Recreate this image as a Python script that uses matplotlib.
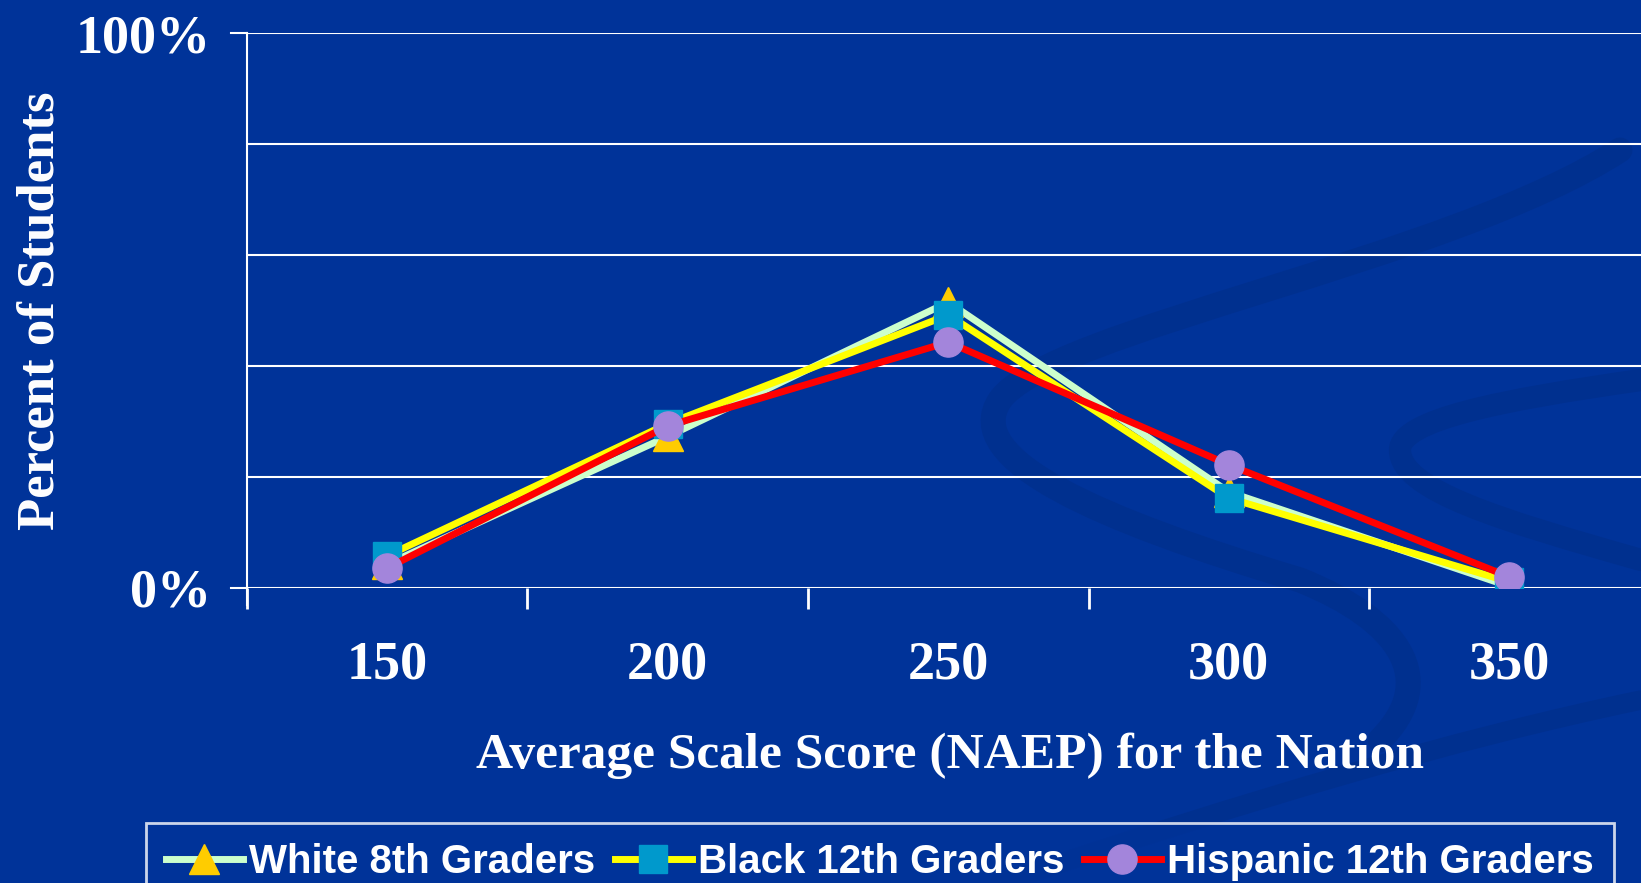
# NAEP score distribution chart, slide style

import matplotlib.pyplot as plt
import numpy as np
from matplotlib.path import Path
from matplotlib.patches import PathPatch
from matplotlib.transforms import Affine2D

# 1. Data
scores = ['150', '200', '250', '300', '350']
white_8th = [4.3, 27.3, 51.5, 17.3, 0.3]
black_12th = [5.8, 29.6, 49.2, 16.2, 1.1]
hispanic_12th = [3.6, 29.2, 44.3, 22.2, 2.0]
y_tick_labels = ['0%', '', '', '', '', '100%']

# 2. Colours and fonts
bg = '#003399'
swirl = '#00308F'
serif = ['Liberation Serif', 'DejaVu Serif']
sans = ['Liberation Sans', 'DejaVu Sans']

W, H = 1641, 883
fig = plt.figure(figsize=(W / 100, H / 100), dpi=100, facecolor=bg)

# faint background swirls of the slide template (pixel coords, top-left origin)
px = Affine2D().scale(1 / W, -1 / H).translate(0, 1) + fig.transFigure
C = Path.CURVE4
swirls = [
    ([(1620, 150), (1450, 260), (1050, 330), (1000, 400),
      (960, 460), (1100, 520), (1300, 580),
      (1400, 620), (1440, 680), (1380, 740)],
     [Path.MOVETO, C, C, C, C, C, C, C, C, C], 18),
    ([(1641, 380), (1500, 400), (1400, 420), (1400, 450),
      (1400, 490), (1500, 520), (1641, 560)],
     [Path.MOVETO, C, C, C, C, C, C], 16),
    ([(1000, 883), (1250, 800), (1450, 740), (1641, 700)],
     [Path.MOVETO, C, C, C], 14),
]
for verts, codes, lw in swirls:
    fig.patches.append(PathPatch(Path(verts, codes), transform=px, fill=False,
                                 edgecolor=swirl, lw=lw, zorder=-5,
                                 capstyle='round'))

ax = fig.add_axes([0.1505, 0.3341, 0.8547, 0.6285], facecolor='none')

x = np.arange(len(scores))

ax.plot(x, white_8th, color='#CCFFCC', lw=5, marker='^', ms=22,
        mfc='#FFCC00', mec='#FFCC00', label='White 8th Graders', zorder=3)
ax.plot(x, black_12th, color='#FFFF00', lw=5, marker='s', ms=20,
        mfc='#0099CC', mec='#0099CC', label='Black 12th Graders', zorder=4)
ax.plot(x, hispanic_12th, color='#FF0000', lw=5, marker='o', ms=21,
        mfc='#A385DB', mec='#A385DB', label='Hispanic 12th Graders', zorder=5)

# 3. Axes: categories sit between boundary ticks
ax.set_xlim(-0.5, len(scores) - 0.5)
ax.set_ylim(0, 100)
ax.set_xticks(np.arange(-0.5, len(scores), 1.0))
ax.set_xticklabels([])
ax.set_xticks(x, minor=True)
ax.set_xticklabels(scores, minor=True, fontsize=39, fontweight='bold',
                   family=serif, color='white')
ax.tick_params(axis='x', which='major', length=15, width=2, color='white',
               direction='out')
ax.tick_params(axis='x', which='minor', length=0, pad=38)

ax.set_yticks(np.arange(0, 101, 20))
ax.set_yticklabels(y_tick_labels, fontsize=39, fontweight='bold',
                   family=serif, color='white')
ax.tick_params(axis='y', length=0, pad=26)
for t in [0, 100]:
    ax.plot([-0.5 - 16 / 280.5, -0.5], [t, t], color='white', lw=1.5,
            clip_on=False)

ax.grid(axis='y', color='white', lw=1.5)
ax.set_axisbelow(True)
for side in ['top', 'right', 'bottom']:
    ax.spines[side].set_visible(False)
ax.spines['left'].set_color('white')
ax.spines['left'].set_linewidth(1.5)
ax.spines['left'].set_bounds(-3, 100)

ax.set_xlabel('Average Scale Score (NAEP) for the Nation', fontsize=37,
              fontweight='bold', family=serif, color='white', va='center')
ax.xaxis.set_label_coords(0.501, -0.303)
ax.set_ylabel('Percent of Students', fontsize=38, fontweight='bold',
              family=serif, color='white', va='center')
ax.yaxis.set_label_coords(-0.147, 0.5)

# 4. Legend box along the bottom edge
leg = fig.legend(loc='upper left', bbox_to_anchor=(146 / W, 1 - 823 / H),
                 ncol=3, frameon=True, facecolor=bg, edgecolor='white',
                 fancybox=False, handlelength=1.9, handletextpad=0.15,
                 columnspacing=0.5, borderpad=0.5, borderaxespad=0,
                 prop={'family': sans, 'weight': 'bold', 'size': 29})
leg.get_frame().set_linewidth(2)
for txt in leg.get_texts():
    txt.set_color('white')

fig.savefig('out.png', dpi=100, facecolor=bg)
